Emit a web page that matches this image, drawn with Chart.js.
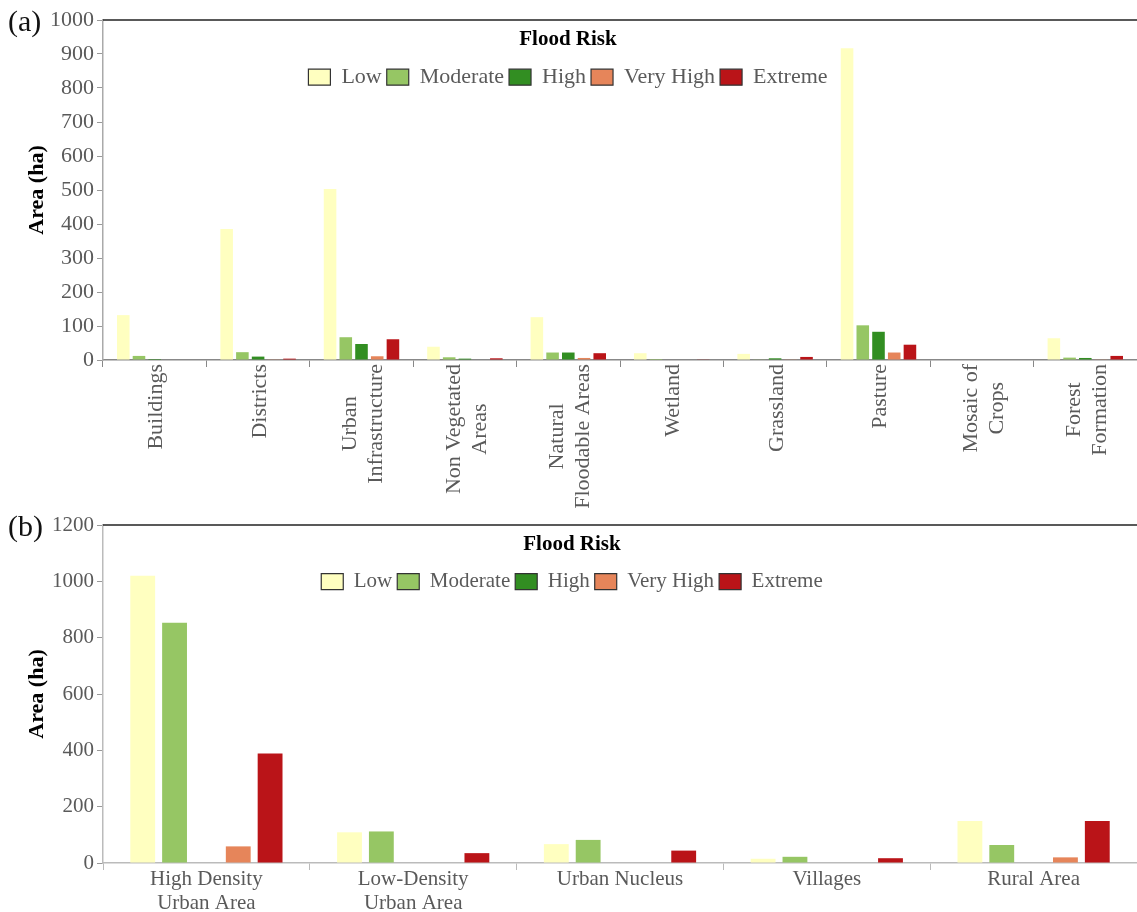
<!DOCTYPE html>
<html>
<head>
<meta charset="utf-8">
<title>Flood risk area by land cover and urban zone</title>
<script src="https://cdn.jsdelivr.net/npm/chart.js@4.4.1/dist/chart.umd.min.js"></script>
<style>
  body { margin: 0; background: #fff; font-family: "Liberation Serif", "Times New Roman", serif; }
  .wrap { position: relative; width: 1137px; height: 912px; }
  canvas { position: absolute; left: 0; }
  #chartA { top: 0; }
  #chartB { top: 500px; }
  .tag { position: absolute; left: 8px; font-size: 30px; line-height: 1; color: #111; }
</style>
</head>
<body>
<div class="wrap">
  <canvas id="chartA" width="1137" height="520"></canvas>
  <canvas id="chartB" width="1137" height="412"></canvas>
  <div class="tag" style="top:6px">(a)</div>
  <div class="tag" style="top:511px">(b)</div>
</div>
<script>
// flood risk classes
const riskLevels = ['Low', 'Moderate', 'High', 'Very High', 'Extreme'];
const riskColors = ['#FFFFC0', '#96C664', '#328E22', '#E6855A', '#BA1418'];

// (a) land cover classes
const landCover = [['Buildings'], ['Districts'], ['Urban', 'Infrastructure'], ['Non Vegetated', 'Areas'],
  ['Natural', 'Floodable Areas'], ['Wetland'], ['Grassland'], ['Pasture'], ['Mosaic of', 'Crops'], ['Forest', 'Formation']];
const lowA      = [132, 385, 503, 39, 126, 20, 18, 917, 0, 64];
const moderateA = [12, 23, 67, 8, 22, 3, 1, 102, 0, 7];
const highA     = [3, 10, 47, 4, 22, 0, 5, 83, 0, 6];
const veryHighA = [0, 2, 11, 0, 6, 0, 1, 22, 0, 1];
const extremeA  = [0, 4, 61, 5, 20, 1, 9, 45, 0, 12];
const yTicksA = [0, 100, 200, 300, 400, 500, 600, 700, 800, 900, 1000];

// (b) urban zones
const urbanZones = [['High Density', 'Urban Area'], ['Low-Density', 'Urban Area'], 'Urban Nucleus', 'Villages', 'Rural Area'];
const lowB      = [1020, 109, 67, 15, 149];
const moderateB = [853, 112, 82, 22, 64];
const highB     = [0, 0, 0, 0, 0];
const veryHighB = [59, 0, 0, 0, 20];
const extremeB  = [389, 35, 44, 17, 149];
const yTicksB = [0, 200, 400, 600, 800, 1000, 1200];

const serif = '"Liberation Serif", "Times New Roman", serif';
const grey = '#5a5a5a';

// black rule along the top of the plot area
const topRule = {
  id: 'topRule',
  afterDraw(chart) {
    const { ctx, chartArea: { left, right, top } } = chart;
    ctx.save();
    ctx.strokeStyle = '#222';
    ctx.lineWidth = 1.5;
    ctx.beginPath();
    ctx.moveTo(left, top);
    ctx.lineTo(right, top);
    ctx.stroke();
    ctx.restore();
  }
};

// legend sits inside the plot, laid out in one row, centred on cx
const inlineLegend = {
  id: 'inlineLegend',
  beforeUpdate(chart) {
    if (chart.legend) chart.legend.isHorizontal = () => true;
  },
  afterUpdate(chart, args, opts) {
    const lg = chart.legend;
    if (!lg) return;
    const w = lg.right - lg.left;
    lg.left = opts.cx - w / 2;
    lg.right = lg.left + w;
    lg.top = chart.chartArea.top;
    lg.bottom = lg.top + lg.height;
    lg.adjustHitBoxes();
  }
};

// rotated category labels, lines centred on each other
const verticalLabels = {
  id: 'verticalLabels',
  afterDraw(chart, args, opts) {
    if (!opts.enabled) return;
    const { ctx } = chart;
    const x = chart.scales.x;
    ctx.save();
    ctx.font = opts.size + 'px ' + serif;
    ctx.fillStyle = grey;
    ctx.textAlign = 'center';
    ctx.textBaseline = 'middle';
    chart.data.labels.forEach((label, i) => {
      const lines = [].concat(label);
      const longest = Math.max(...lines.map(l => ctx.measureText(l).width));
      ctx.save();
      ctx.translate(x.getPixelForTick(i) + 2, x.top + opts.gap + longest / 2);
      ctx.rotate(-Math.PI / 2);
      lines.forEach((line, k) => ctx.fillText(line, 0, (k - (lines.length - 1) / 2) * opts.lineGap));
      ctx.restore();
    });
    ctx.restore();
  }
};

function riskChart(id, labels, series, cfg) {
  const fontSize = cfg.fontSize;
  return new Chart(document.getElementById(id), {
    type: 'bar',
    data: {
      labels: labels,
      datasets: riskLevels.map((name, i) => ({
        label: name,
        data: series[i],
        backgroundColor: riskColors[i],
        borderWidth: 0,
        barPercentage: cfg.barPct,
        categoryPercentage: cfg.catPct
      }))
    },
    options: {
      responsive: false,
      animation: false,
      layout: { padding: { top: cfg.top, right: 0, bottom: 0, left: 0 } },
      plugins: {
        tooltip: { enabled: false },
        legend: {
          position: 'chartArea',
          labels: {
            boxWidth: 22,
            boxHeight: 16,
            padding: 5,
            color: grey,
            font: { family: serif, size: fontSize },
            generateLabels(chart) {
              return Chart.defaults.plugins.legend.labels.generateLabels(chart)
                .map(item => Object.assign(item, { strokeStyle: '#333', lineWidth: 1.2 }));
            }
          },
          title: {
            display: true,
            text: 'Flood Risk',
            color: '#000',
            font: { family: serif, size: 21, weight: 'bold' },
            padding: { top: 9, bottom: 7 }
          }
        },
        inlineLegend: { cx: cfg.legendCx },
        verticalLabels: { enabled: cfg.vertical, size: fontSize, gap: 4, lineGap: 26 }
      },
      scales: {
        x: {
          grid: { offset: true, drawOnChartArea: false, drawTicks: true, tickLength: 7, color: cfg.xAxisColor },
          border: { color: cfg.xAxisColor, width: 1.5 },
          ticks: {
            display: !cfg.vertical,
            autoSkip: false,
            maxRotation: 0,
            padding: -2,
            color: grey,
            font: { family: serif, size: fontSize, lineHeight: 1.14 }
          },
          afterFit(scale) { scale.height = cfg.xHeight; }
        },
        y: {
          min: cfg.yTicks[0],
          max: cfg.yTicks[cfg.yTicks.length - 1],
          ticks: {
            stepSize: cfg.yTicks[1] - cfg.yTicks[0],
            padding: 3,
            color: grey,
            font: { family: serif, size: fontSize },
            callback: v => String(v)
          },
          grid: { drawOnChartArea: false, tickLength: 6, color: '#999' },
          border: { color: cfg.yAxisColor, width: 1.5 },
          title: {
            display: true,
            text: 'Area (ha)',
            color: '#000',
            font: { family: serif, size: 22, weight: 'bold' },
            padding: { top: 24, bottom: 0 }
          },
          afterFit(scale) { scale.width = 103; }
        }
      }
    },
    plugins: [topRule, inlineLegend, verticalLabels]
  });
}

riskChart('chartA', landCover, [lowA, moderateA, highA, veryHighA, extremeA], {
  fontSize: 22, top: 20, xHeight: 160, yTicks: yTicksA, barPct: 0.8, catPct: 0.76,
  legendCx: 568, vertical: true, xAxisColor: '#888', yAxisColor: '#aaa'
});

riskChart('chartB', urbanZones, [lowB, moderateB, highB, veryHighB, extremeB], {
  fontSize: 21, top: 25, xHeight: 49, yTicks: yTicksB, barPct: 0.78, catPct: 0.77,
  legendCx: 572, vertical: false, xAxisColor: '#bbb', yAxisColor: '#bbb'
});
</script>
</body>
</html>
